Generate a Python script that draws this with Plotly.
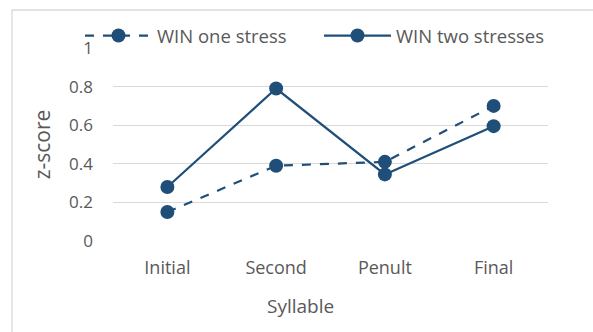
import plotly.graph_objects as go

categories = ["Initial", "Second", "Penult", "Final"]
one_stress = [0.15, 0.39, 0.41, 0.70]
two_stresses = [0.28, 0.79, 0.345, 0.595]
y_ticks = [0, 0.2, 0.4, 0.6, 0.8, 1]
y_tick_labels = ["0", "0.2", "0.4", "0.6", "0.8", "1"]
x_title = "Syllable"
y_title = "z-score"

color = "#1F4E79"
grey = "#595959"
font_family = "Open Sans, Liberation Sans, sans-serif"

fig = go.Figure()
fig.add_trace(go.Scatter(
    x=categories, y=one_stress, name="WIN one stress",
    mode="lines+markers",
    line=dict(color=color, width=2.2, dash="dash"),
    marker=dict(color=color, size=14),
    legend="legend",
))
fig.add_trace(go.Scatter(
    x=categories, y=two_stresses, name="WIN two stresses",
    mode="lines+markers",
    line=dict(color=color, width=2.2),
    marker=dict(color=color, size=14),
    legend="legend2",
))

W, H = 593, 332
L, R, T, B = 113, 45, 48, 91
pw = W - L - R
ph = H - T - B

leg_common = dict(
    orientation="h", xanchor="left",
    y=1 + (T - 36) / ph, yanchor="middle",
    font=dict(size=18.5, color=grey), itemwidth=67,
    bgcolor="rgba(0,0,0,0)",
)

fig.update_layout(
    width=W, height=H,
    margin=dict(l=L, r=R, t=T, b=B),
    paper_bgcolor="white", plot_bgcolor="white",
    font=dict(family=font_family, color=grey, size=16),
    showlegend=True,
    legend=dict(x=(80 - L) / pw, **leg_common),
    legend2=dict(x=(319 - L) / pw, **leg_common),
    xaxis=dict(
        range=[-0.5, 3.5],
        showgrid=False, showline=False, zeroline=False,
        ticks="", tickfont=dict(size=18, color=grey), ticklabelstandoff=14,
    ),
    yaxis=dict(
        range=[0, 1], tickvals=y_ticks, ticktext=y_tick_labels,
        showgrid=True, gridcolor="#D9D9D9", gridwidth=1.3,
        zeroline=False, showline=False, ticks="",
        tickfont=dict(size=17, color=grey), ticklabelstandoff=19,
        title=dict(text=y_title, font=dict(size=21, color=grey), standoff=12),
    ),
    annotations=[dict(
        text=x_title, xref="paper", yref="paper",
        x=(300 - L) / pw, y=-(306 - T - ph) / ph,
        xanchor="center", yanchor="middle", showarrow=False,
        font=dict(size=19, color=grey, family=font_family),
    )],
    shapes=[dict(
        type="rect", xref="paper", yref="paper",
        x0=(12 - L) / pw, x1=(W + 20 - L) / pw,
        y0=-(H + 20 - T - ph) / ph, y1=1 + (T - 10) / ph,
        line=dict(color="#D9D9D9", width=1.3), layer="below",
    )],
)

fig.write_html("out.html")
